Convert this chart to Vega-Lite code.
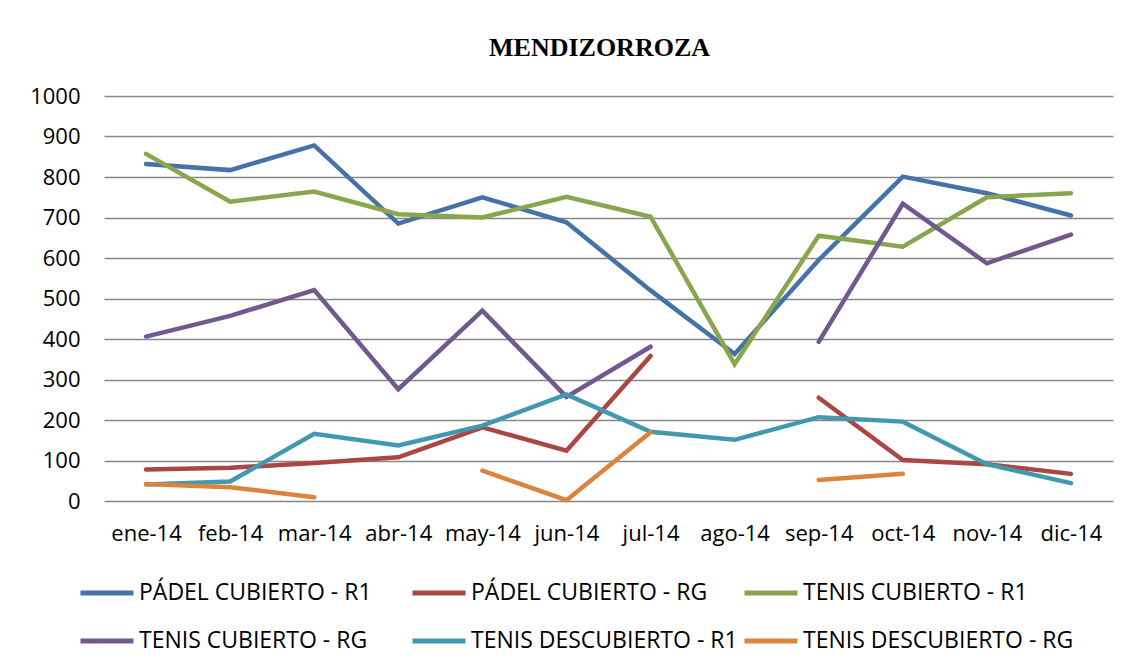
{
  "$schema": "https://vega.github.io/schema/vega-lite/v6.json",
  "autosize": "none",
  "width": 1009,
  "height": 405,
  "padding": {"left": 104, "top": 96, "right": 18, "bottom": 170},
  "background": "white",
  "title": {
    "text": "MENDIZORROZA",
    "font": "Liberation Serif",
    "fontSize": 26,
    "fontWeight": "bold",
    "color": "black",
    "anchor": "middle",
    "dx": -9,
    "offset": 24
  },
  "data": {
    "values": [
      {"mes": "ene-14", "serie": "PÁDEL CUBIERTO - R1", "valor": 832},
      {"mes": "feb-14", "serie": "PÁDEL CUBIERTO - R1", "valor": 817},
      {"mes": "mar-14", "serie": "PÁDEL CUBIERTO - R1", "valor": 878},
      {"mes": "abr-14", "serie": "PÁDEL CUBIERTO - R1", "valor": 685},
      {"mes": "may-14", "serie": "PÁDEL CUBIERTO - R1", "valor": 750},
      {"mes": "jun-14", "serie": "PÁDEL CUBIERTO - R1", "valor": 688},
      {"mes": "jul-14", "serie": "PÁDEL CUBIERTO - R1", "valor": 520},
      {"mes": "ago-14", "serie": "PÁDEL CUBIERTO - R1", "valor": 363},
      {"mes": "sep-14", "serie": "PÁDEL CUBIERTO - R1", "valor": 595},
      {"mes": "oct-14", "serie": "PÁDEL CUBIERTO - R1", "valor": 801},
      {"mes": "nov-14", "serie": "PÁDEL CUBIERTO - R1", "valor": 760},
      {"mes": "dic-14", "serie": "PÁDEL CUBIERTO - R1", "valor": 705},
      {"mes": "ene-14", "serie": "PÁDEL CUBIERTO - RG", "valor": 78},
      {"mes": "feb-14", "serie": "PÁDEL CUBIERTO - RG", "valor": 82},
      {"mes": "mar-14", "serie": "PÁDEL CUBIERTO - RG", "valor": 94},
      {"mes": "abr-14", "serie": "PÁDEL CUBIERTO - RG", "valor": 108},
      {"mes": "may-14", "serie": "PÁDEL CUBIERTO - RG", "valor": 182},
      {"mes": "jun-14", "serie": "PÁDEL CUBIERTO - RG", "valor": 124},
      {"mes": "jul-14", "serie": "PÁDEL CUBIERTO - RG", "valor": 358},
      {"mes": "ago-14", "serie": "PÁDEL CUBIERTO - RG", "valor": null},
      {"mes": "sep-14", "serie": "PÁDEL CUBIERTO - RG", "valor": 255},
      {"mes": "oct-14", "serie": "PÁDEL CUBIERTO - RG", "valor": 101},
      {"mes": "nov-14", "serie": "PÁDEL CUBIERTO - RG", "valor": 91},
      {"mes": "dic-14", "serie": "PÁDEL CUBIERTO - RG", "valor": 67},
      {"mes": "ene-14", "serie": "TENIS CUBIERTO - R1", "valor": 857},
      {"mes": "feb-14", "serie": "TENIS CUBIERTO - R1", "valor": 739},
      {"mes": "mar-14", "serie": "TENIS CUBIERTO - R1", "valor": 764},
      {"mes": "abr-14", "serie": "TENIS CUBIERTO - R1", "valor": 708},
      {"mes": "may-14", "serie": "TENIS CUBIERTO - R1", "valor": 700},
      {"mes": "jun-14", "serie": "TENIS CUBIERTO - R1", "valor": 751},
      {"mes": "jul-14", "serie": "TENIS CUBIERTO - R1", "valor": 702},
      {"mes": "ago-14", "serie": "TENIS CUBIERTO - R1", "valor": 338},
      {"mes": "sep-14", "serie": "TENIS CUBIERTO - R1", "valor": 655},
      {"mes": "oct-14", "serie": "TENIS CUBIERTO - R1", "valor": 628},
      {"mes": "nov-14", "serie": "TENIS CUBIERTO - R1", "valor": 750},
      {"mes": "dic-14", "serie": "TENIS CUBIERTO - R1", "valor": 760},
      {"mes": "ene-14", "serie": "TENIS CUBIERTO - RG", "valor": 406},
      {"mes": "feb-14", "serie": "TENIS CUBIERTO - RG", "valor": 457},
      {"mes": "mar-14", "serie": "TENIS CUBIERTO - RG", "valor": 521},
      {"mes": "abr-14", "serie": "TENIS CUBIERTO - RG", "valor": 276},
      {"mes": "may-14", "serie": "TENIS CUBIERTO - RG", "valor": 470},
      {"mes": "jun-14", "serie": "TENIS CUBIERTO - RG", "valor": 257},
      {"mes": "jul-14", "serie": "TENIS CUBIERTO - RG", "valor": 381},
      {"mes": "ago-14", "serie": "TENIS CUBIERTO - RG", "valor": null},
      {"mes": "sep-14", "serie": "TENIS CUBIERTO - RG", "valor": 393},
      {"mes": "oct-14", "serie": "TENIS CUBIERTO - RG", "valor": 734},
      {"mes": "nov-14", "serie": "TENIS CUBIERTO - RG", "valor": 587},
      {"mes": "dic-14", "serie": "TENIS CUBIERTO - RG", "valor": 658},
      {"mes": "ene-14", "serie": "TENIS DESCUBIERTO - R1", "valor": 41},
      {"mes": "feb-14", "serie": "TENIS DESCUBIERTO - R1", "valor": 48},
      {"mes": "mar-14", "serie": "TENIS DESCUBIERTO - R1", "valor": 166},
      {"mes": "abr-14", "serie": "TENIS DESCUBIERTO - R1", "valor": 137},
      {"mes": "may-14", "serie": "TENIS DESCUBIERTO - R1", "valor": 186},
      {"mes": "jun-14", "serie": "TENIS DESCUBIERTO - R1", "valor": 263},
      {"mes": "jul-14", "serie": "TENIS DESCUBIERTO - R1", "valor": 171},
      {"mes": "ago-14", "serie": "TENIS DESCUBIERTO - R1", "valor": 151},
      {"mes": "sep-14", "serie": "TENIS DESCUBIERTO - R1", "valor": 207},
      {"mes": "oct-14", "serie": "TENIS DESCUBIERTO - R1", "valor": 196},
      {"mes": "nov-14", "serie": "TENIS DESCUBIERTO - R1", "valor": 91},
      {"mes": "dic-14", "serie": "TENIS DESCUBIERTO - R1", "valor": 44},
      {"mes": "ene-14", "serie": "TENIS DESCUBIERTO - RG", "valor": 42},
      {"mes": "feb-14", "serie": "TENIS DESCUBIERTO - RG", "valor": 34},
      {"mes": "mar-14", "serie": "TENIS DESCUBIERTO - RG", "valor": 9},
      {"mes": "abr-14", "serie": "TENIS DESCUBIERTO - RG", "valor": null},
      {"mes": "may-14", "serie": "TENIS DESCUBIERTO - RG", "valor": 75},
      {"mes": "jun-14", "serie": "TENIS DESCUBIERTO - RG", "valor": 2},
      {"mes": "jul-14", "serie": "TENIS DESCUBIERTO - RG", "valor": 170},
      {"mes": "ago-14", "serie": "TENIS DESCUBIERTO - RG", "valor": null},
      {"mes": "sep-14", "serie": "TENIS DESCUBIERTO - RG", "valor": 52},
      {"mes": "oct-14", "serie": "TENIS DESCUBIERTO - RG", "valor": 67},
      {"mes": "nov-14", "serie": "TENIS DESCUBIERTO - RG", "valor": null},
      {"mes": "dic-14", "serie": "TENIS DESCUBIERTO - RG", "valor": null}
    ]
  },
  "mark": {
    "type": "line",
    "strokeWidth": 4.5,
    "strokeCap": "round",
    "invalid": "break-paths-show-domains"
  },
  "encoding": {
    "x": {
      "field": "mes",
      "type": "ordinal",
      "sort": ["ene-14", "feb-14", "mar-14", "abr-14", "may-14", "jun-14", "jul-14", "ago-14", "sep-14", "oct-14", "nov-14", "dic-14"],
      "scale": {"type": "point", "padding": 0.5},
      "axis": {
        "title": null,
        "labelAngle": 0,
        "labelFont": "Open Sans",
        "labelFontSize": 22,
        "labelColor": "black",
        "labelPadding": 22,
        "ticks": false,
        "domain": false,
        "grid": false
      }
    },
    "y": {
      "field": "valor",
      "type": "quantitative",
      "scale": {"domain": [0, 1000], "nice": false, "zero": true},
      "axis": {
        "title": null,
        "format": "d",
        "values": [0, 100, 200, 300, 400, 500, 600, 700, 800, 900, 1000],
        "labelFont": "Open Sans",
        "labelFontSize": 22,
        "labelColor": "black",
        "labelPadding": 24,
        "ticks": false,
        "domain": false,
        "grid": true,
        "gridColor": "#878787",
        "gridWidth": 1.5
      }
    },
    "color": {
      "field": "serie",
      "type": "nominal",
      "scale": {
        "domain": ["PÁDEL CUBIERTO - R1", "PÁDEL CUBIERTO - RG", "TENIS CUBIERTO - R1", "TENIS CUBIERTO - RG", "TENIS DESCUBIERTO - R1", "TENIS DESCUBIERTO - RG"],
        "range": ["#4572A7", "#AA4643", "#89A54E", "#71588F", "#4198AF", "#DB843D"]
      },
      "legend": {
        "title": null,
        "orient": "none",
        "direction": "horizontal",
        "legendX": -26,
        "legendY": 468,
        "columns": 3,
        "gridAlign": "all",
        "columnPadding": -9,
        "rowPadding": 7,
        "padding": 0,
        "symbolType": "stroke",
        "symbolSize": 2809,
        "symbolStrokeWidth": 5,
        "labelFont": "Open Sans",
        "labelFontSize": 23,
        "labelColor": "black",
        "labelOffset": 3,
        "labelLimit": 500
      }
    }
  },
  "config": {
    "view": {"stroke": null}
  }
}
